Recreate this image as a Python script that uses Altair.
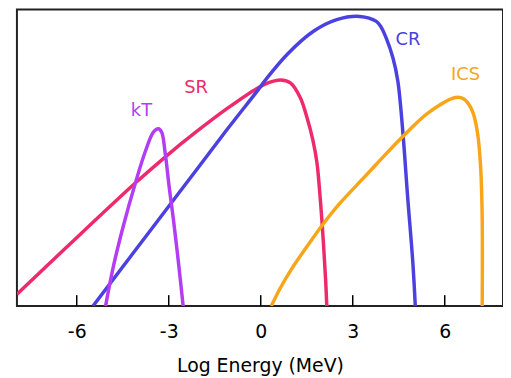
import altair as alt
import pandas as pd

# ---- data ----
sr_x = [-7.95, -6.36, -4.09, -3.07, -2.13, -1.08, -0.11, 0.28, 0.645, 0.968, 1.291, 1.508, 1.702, 1.831, 1.944, 2.048, 2.115, 2.154]
sr_y = [12, 58.5, 124, 151.5, 175, 199.5, 219.7, 225.5, 228, 225, 210, 190, 167, 145, 107, 62, 27, 0]

cr_x = [-5.47, -3.5, -2.21, -1.08, -0.11, 0.215, 0.86, 1.72, 2.48, 3.23, 3.77, 3.93, 4.09, 4.31, 4.47, 4.63, 4.79, 4.96, 5.04]
cr_y = [0, 80.2, 132.7, 178.7, 217, 230.3, 253.7, 277, 288.7, 292, 287, 281, 270.3, 250.3, 227, 177, 110.3, 43.7, 0]

kt_x = [-5.06, -4.79, -4.47, -4.09, -3.77, -3.50, -3.34, -3.23, -3.12, -2.98, -2.85, -2.69, -2.53]
kt_y = [0, 42, 82, 123.7, 155.3, 175.3, 178.7, 175.3, 155.3, 118.7, 88, 46, 0]

ics_x = [0.344, 0.635, 0.968, 1.508, 1.993, 2.584, 3.340, 3.770, 4.633, 5.493, 6.356, 6.624, 6.896, 7.057, 7.164, 7.219, 7.222]
ics_y = [0, 18, 35.5, 60, 81, 103.7, 128.7, 143, 171, 195.5, 210.3, 208.7, 197, 177, 143.7, 93.7, 0]

series = ["SR", "CR", "kT", "ICS"]
colors = ["#EE2A6D", "#4B40E0", "#B33DF2", "#F9A51A"]

label_text = ["kT", "SR", "CR", "ICS"]
label_x = [-3.89, -2.11, 4.80, 6.68]
label_y = [197, 220, 268, 233]

tick_values = [-6, -3, 0, 3, 6]

# ---- build tables ----
rows = []
for name, xs, ys in [("SR", sr_x, sr_y), ("CR", cr_x, cr_y), ("kT", kt_x, kt_y), ("ICS", ics_x, ics_y)]:
    for i, (xv, yv) in enumerate(zip(xs, ys)):
        rows.append({"series": name, "x": xv, "y": yv, "i": i})
df = pd.DataFrame(rows)
labels = pd.DataFrame({"series": label_text, "x": label_x, "y": label_y})
ticks = pd.DataFrame({"t": tick_values})

FONT = "DejaVu Sans"
xscale = alt.Scale(domain=[-7.95, 7.9], nice=False, zero=False)
yscale = alt.Scale(domain=[0, 299], nice=False, zero=False)
cscale = alt.Scale(domain=series, range=colors)

xaxis = alt.Axis(values=tick_values, ticks=False, domain=False, grid=False,
                 labelFontSize=19, labelFont=FONT, labelColor="black",
                 labelPadding=17, labelFlush=False, labelExpr="'' + datum.value",
                 title="Log Energy (MeV)", titleFont=FONT, titleFontSize=19,
                 titleFontWeight="normal", titleColor="black", titlePadding=15)

lines = alt.Chart(df).mark_line(strokeWidth=3.5, interpolate="catmull-rom", clip=True).encode(
    x=alt.X("x:Q", scale=xscale, axis=xaxis),
    y=alt.Y("y:Q", scale=yscale, axis=None),
    color=alt.Color("series:N", scale=cscale, legend=None),
    detail="series:N",
    order="i:Q",
)

tick_marks = alt.Chart(ticks).mark_rule(color="black", strokeWidth=1.5).encode(
    x=alt.X("t:Q", scale=xscale),
    y=alt.value(299),
    y2=alt.value(288),
)

texts = alt.Chart(labels).mark_text(fontSize=18, font=FONT, align="center", baseline="middle").encode(
    x=alt.X("x:Q", scale=xscale),
    y=alt.Y("y:Q", scale=yscale),
    text="series:N",
    color=alt.Color("series:N", scale=cscale, legend=None),
)

chart = alt.layer(tick_marks, lines, texts).properties(
    width=490, height=299,
    padding={"left": 9, "top": 0, "right": 0, "bottom": 0},
    background="white",
).configure_view(stroke="#222222", strokeWidth=2)

chart.save("out.html", embed_options={"renderer": "svg", "actions": False})
